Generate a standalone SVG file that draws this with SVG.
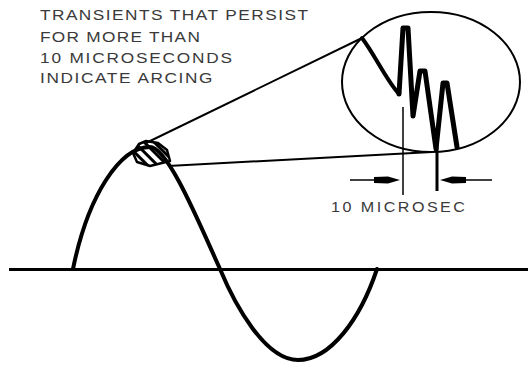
<svg xmlns="http://www.w3.org/2000/svg" width="528" height="366" viewBox="0 0 528 366">
<style>
.lbl{font-family:"Liberation Sans",Arial,Helvetica,sans-serif;fill:#3a3a3a}
.cap{font-size:15px}
.small{font-size:14px}
.thin{fill:none;stroke:#000;stroke-width:2}
.wave{fill:none;stroke:#000;stroke-width:4;stroke-linecap:round;stroke-linejoin:round}
.spike{fill:none;stroke:#000;stroke-width:5;stroke-linecap:round;stroke-linejoin:round}
</style>
<defs>
<pattern id="hatch" patternUnits="userSpaceOnUse" width="7" height="7" patternTransform="rotate(-45)">
<rect x="0" y="0" width="3" height="7" fill="#000"/>
</pattern>
</defs>
<rect width="528" height="366" fill="#fff"/>

<g id="caption" transform="translate(40,0) scale(1.15,1)">
<text class="lbl cap" x="0" y="20" textLength="233" lengthAdjust="spacing">TRANSIENTS THAT PERSIST</text>
<text class="lbl cap" x="0" y="42" textLength="139" lengthAdjust="spacing">FOR MORE THAN</text>
<text class="lbl cap" x="0" y="63" textLength="167" lengthAdjust="spacing">10 MICROSECONDS</text>
<text class="lbl cap" x="0" y="83" textLength="150" lengthAdjust="spacing">INDICATE ARCING</text>
</g>

<g id="axis">
<line x1="9" y1="269.5" x2="528" y2="269.5" stroke="#000" stroke-width="3"/>
</g>

<g id="sine-wave">
<path class="wave" d="M73,269 C88,195 120,147 150,147 C168,147 200,225 220,269 C235,305 265,360 298,360 C330,360 360,320 377,269"/>
</g>

<g id="magnifier">
<polygon points="133,153 139,144 146,141 158,143 167,150 170,161 150,166 137,162" fill="url(#hatch)" stroke="#000" stroke-width="2.5" stroke-linejoin="round"/>
</g>

<g id="zoom-ellipse">
<ellipse cx="431" cy="82" rx="89" ry="70" class="thin"/>
</g>

<g id="transient">
<path class="wave" d="M362,38 C375,55 386,80 399,94"/>
<polyline class="spike" points="399,94 403,28 408,28 413,116 420,71 425,71 436,149 443,83 447,83 457,147"/>
</g>

<g id="connectors">
<line x1="146" y1="143" x2="362" y2="38" stroke="#000" stroke-width="2"/>
<line x1="168" y1="166" x2="432" y2="152" stroke="#000" stroke-width="2"/>
<line x1="403" y1="107" x2="403" y2="195" stroke="#000" stroke-width="1.5"/>
<line x1="437" y1="145" x2="437" y2="191" stroke="#000" stroke-width="3"/>
<line x1="350" y1="180" x2="390" y2="180" stroke="#000" stroke-width="1.5"/>
<polygon points="374,177 388,176.5 400,180 388,183.5 374,183" fill="#000"/>
<line x1="452" y1="180" x2="492" y2="180" stroke="#000" stroke-width="1.5"/>
<polygon points="440,180 452,176.5 466,177 466,183 452,183.5" fill="#000"/>
</g>

<g id="measure-label" transform="translate(331,0) scale(1.15,1)">
<text class="lbl small" x="0" y="212" textLength="116.5" lengthAdjust="spacing">10 MICROSEC</text>
</g>
</svg>
